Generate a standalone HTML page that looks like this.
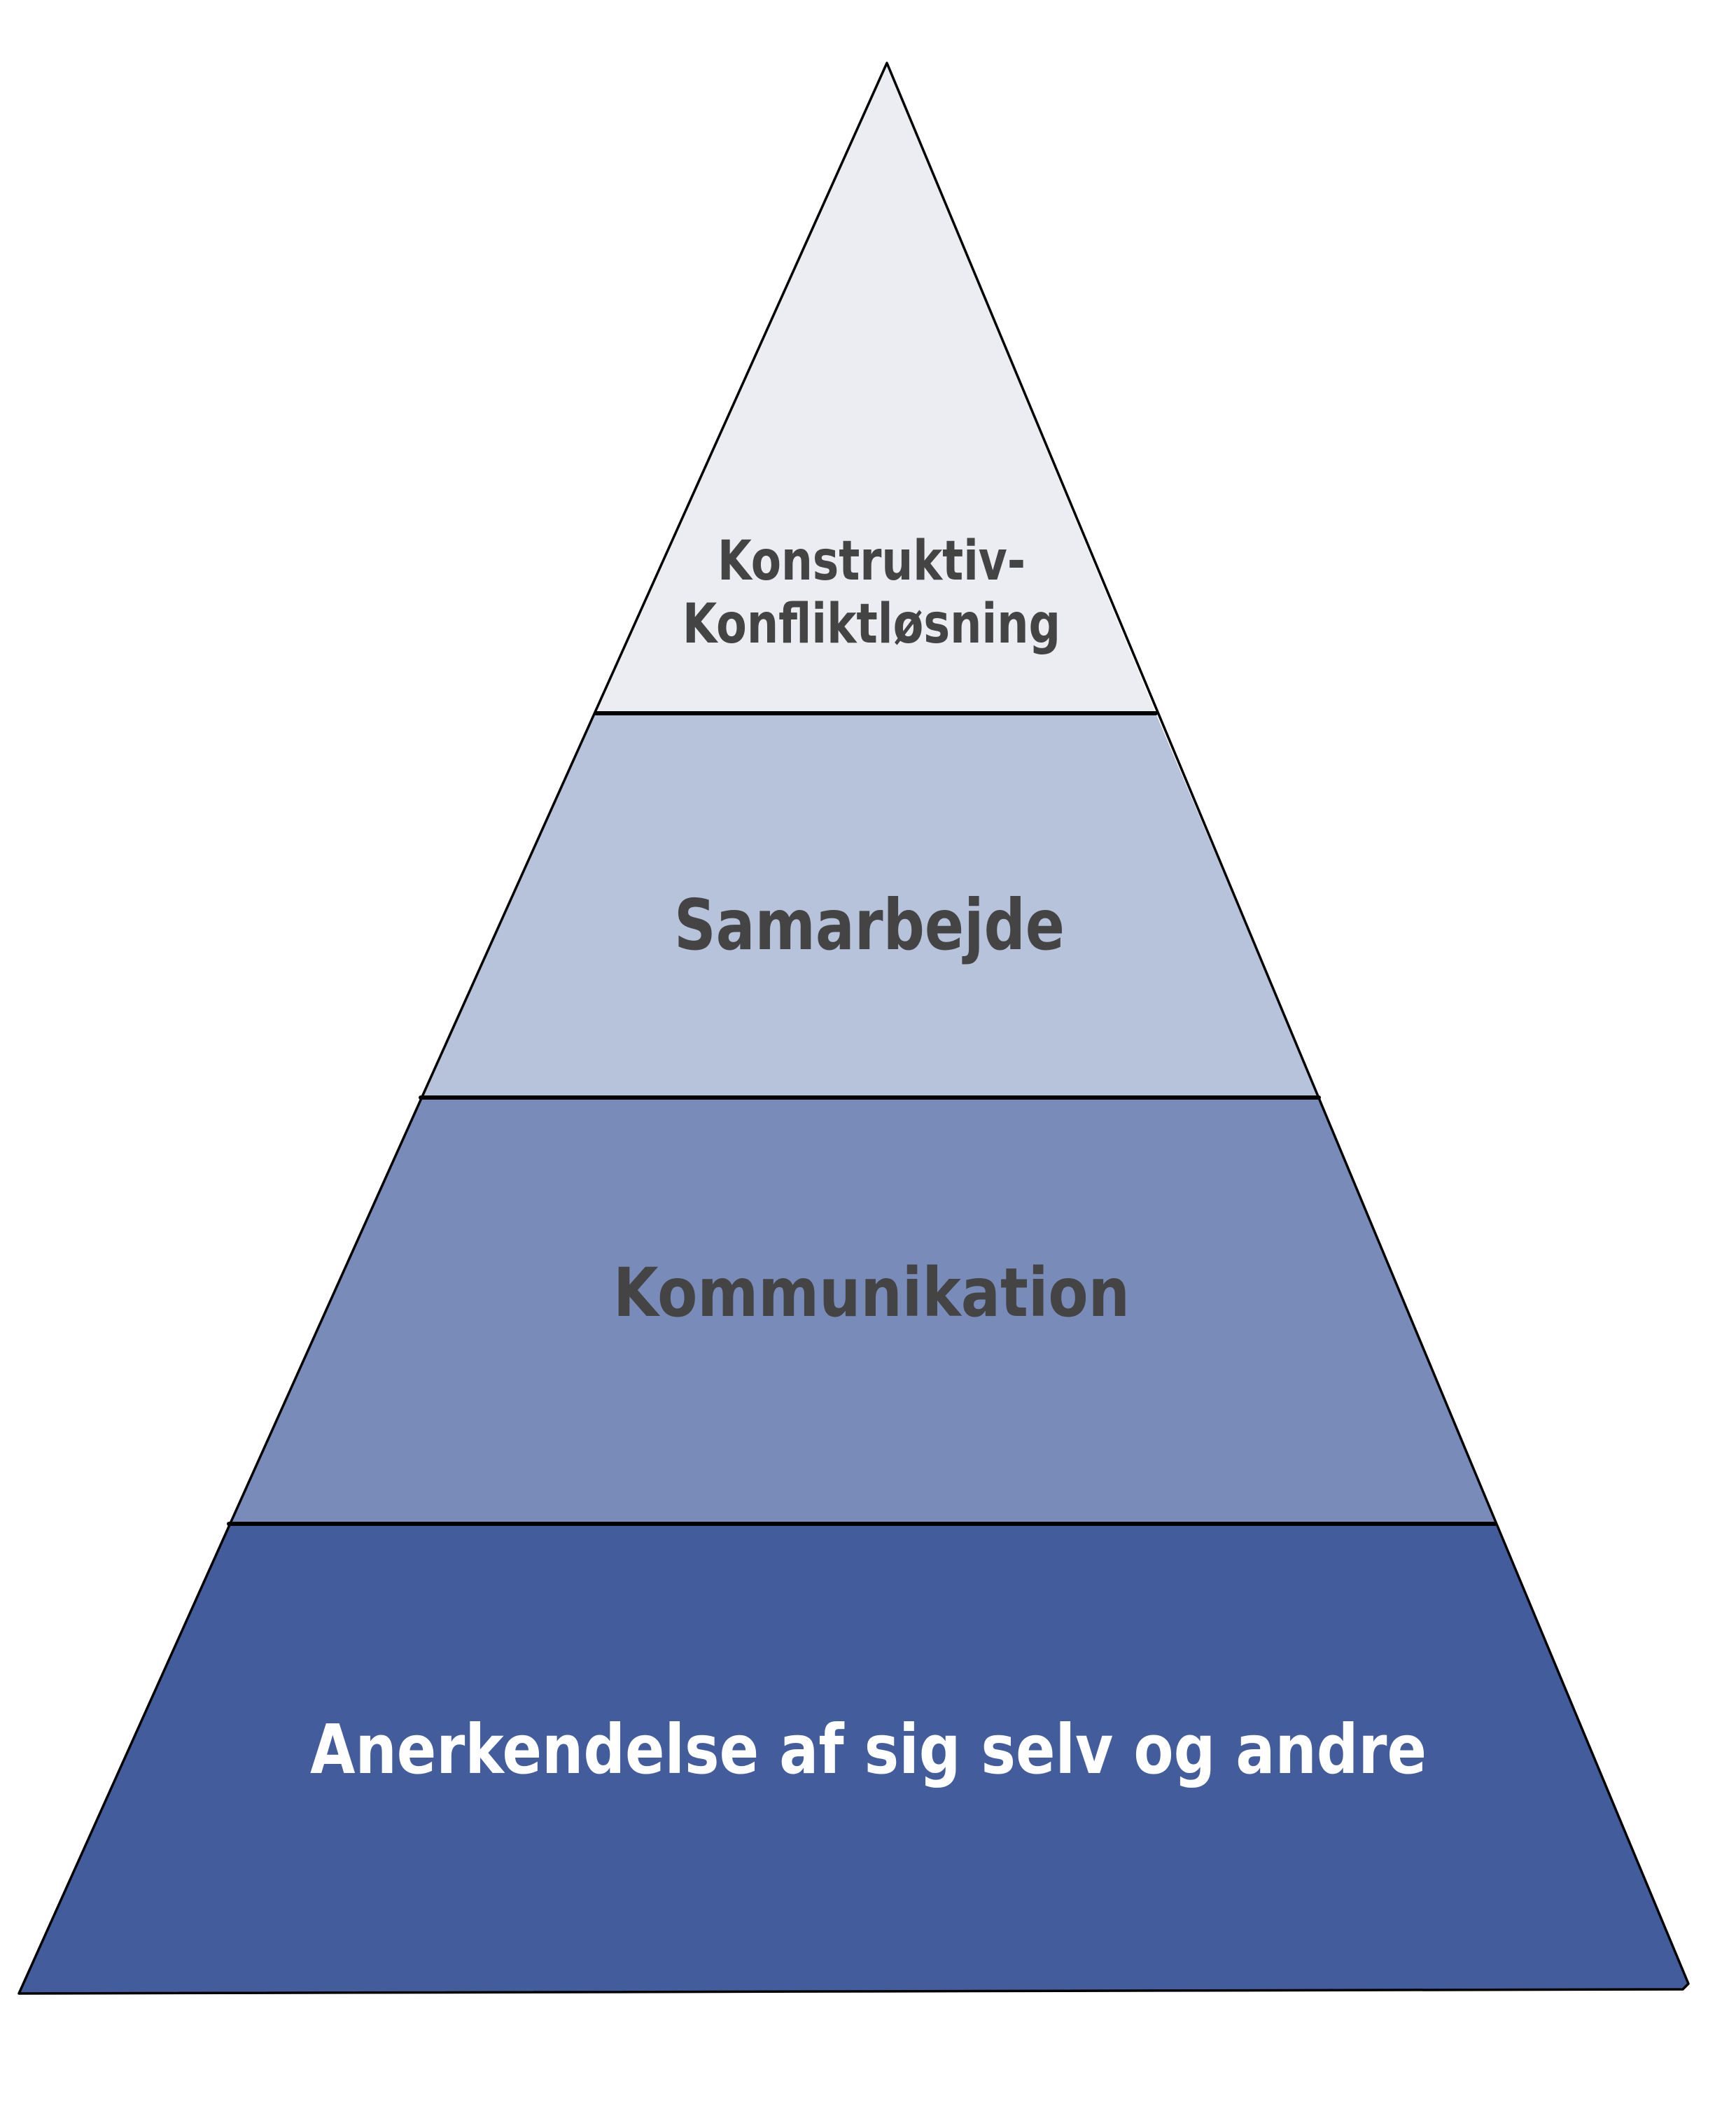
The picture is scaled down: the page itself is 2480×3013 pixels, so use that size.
<!DOCTYPE html>
<html><head><meta charset="utf-8"><style>html,body{margin:0;padding:0;background:#fff}svg{display:block}</style></head>
<body>
<svg width="2480" height="3013" viewBox="0 0 2480 3013" xmlns="http://www.w3.org/2000/svg">
<polygon points="1267,90 1651,1019 851,1019" fill="#ECEDF3"/>
<polygon points="851,1019 1651,1019 1884,1568 601,1568" fill="#B7C2DB"/>
<polygon points="601,1568 1884,1568 2136,2177 327,2177" fill="#798BB8"/>
<polygon points="327,2177 2136,2177 2412,2836 2404,2842 27,2848" fill="#425C9C"/>
<g stroke="#000" fill="none" stroke-linejoin="round" stroke-linecap="round">
<polyline points="27,2848 1267,90 2412,2834 2404,2842 27,2848" stroke-width="3.5"/>
<line x1="851" y1="1019" x2="1651" y2="1019" stroke-width="6"/>
<line x1="601" y1="1568" x2="1884" y2="1568" stroke-width="6"/>
<line x1="327" y1="2177" x2="2136" y2="2177" stroke-width="6"/>
</g>
<g font-family="'DejaVu Sans','Liberation Sans',sans-serif" font-weight="bold" fill="#444444" text-anchor="start">
<text x="1025" y="828" font-size="78" textLength="440" lengthAdjust="spacingAndGlyphs">Konstruktiv-</text>
<text x="975" y="918" font-size="78" textLength="540" lengthAdjust="spacingAndGlyphs">Konfliktløsning</text>
<text x="963" y="1356" font-size="100" textLength="558" lengthAdjust="spacingAndGlyphs">Samarbejde</text>
<text x="876" y="1880" font-size="96" textLength="738" lengthAdjust="spacingAndGlyphs">Kommunikation</text>
<text x="443" y="2533" font-size="97" fill="#ffffff" textLength="1595" lengthAdjust="spacingAndGlyphs">Anerkendelse af sig selv og andre</text>
</g>
</svg>
</body></html>
